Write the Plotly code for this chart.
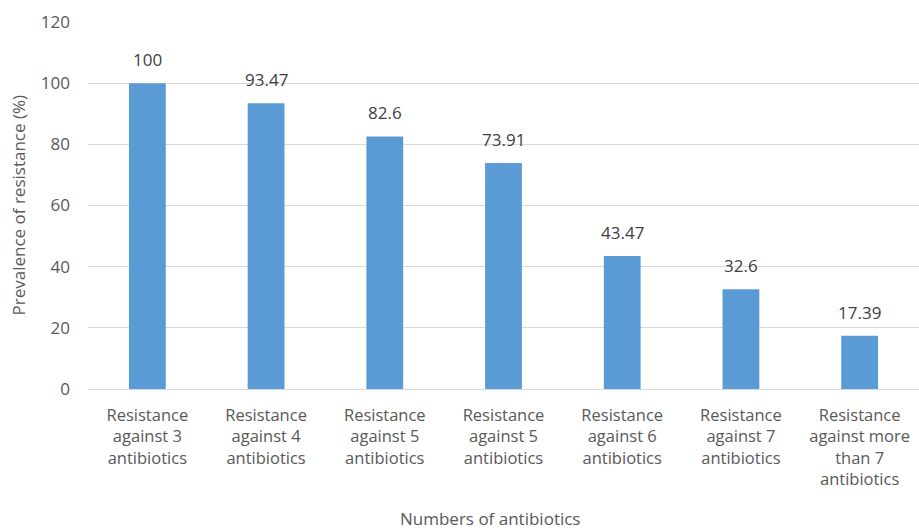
import plotly.graph_objects as go

categories = [
    "Resistance<br>against 3<br>antibiotics",
    "Resistance<br>against 4<br>antibiotics",
    "Resistance<br>against 5<br>antibiotics",
    "Resistance<br>against 5<br>antibiotics",
    "Resistance<br>against 6<br>antibiotics",
    "Resistance<br>against 7<br>antibiotics",
    "Resistance<br>against more<br>than 7<br>antibiotics",
]
prevalence = [100, 93.47, 82.6, 73.91, 43.47, 32.6, 17.39]
y_ticks = [0, 20, 40, 60, 80, 100, 120]

FONT = "Open Sans"
TEXT = "#595959"
SIZE = 17
TICK_SIZE = 16.5
positions = list(range(len(categories)))

fig = go.Figure(
    go.Bar(
        x=positions,
        y=prevalence,
        marker=dict(color="#5B9BD5", line=dict(width=0)),
        width=0.31,
        hoverinfo="skip",
    )
)

# value labels above each bar
for xi, v in zip(positions, prevalence):
    fig.add_annotation(
        x=xi, y=v, text=f"{v:g}", showarrow=False,
        yanchor="bottom", yshift=10,
        font=dict(family=FONT, size=SIZE, color="#404040"),
    )

fig.update_layout(
    width=919, height=531,
    margin=dict(l=88, r=0, t=22, b=142),
    paper_bgcolor="white", plot_bgcolor="white",
    showlegend=False,
    font=dict(family=FONT, size=SIZE, color=TEXT),
    xaxis=dict(
        tickvals=positions, ticktext=categories,
        range=[-0.5, len(categories) - 0.5],
        showgrid=False, zeroline=False,
        showline=True, linecolor="#d9d9d9", linewidth=1,
        ticks="", ticklabelstandoff=11,
        tickfont=dict(family=FONT, size=TICK_SIZE, color=TEXT),
        fixedrange=True,
    ),
    yaxis=dict(
        range=[0, 120], tickvals=y_ticks,
        showgrid=True, gridcolor="#d9d9d9", gridwidth=1,
        zeroline=False, showline=False, ticks="",
        ticklabelstandoff=17,
        tickfont=dict(family=FONT, size=SIZE, color=TEXT),
        fixedrange=True,
    ),
    annotations=list(fig.layout.annotations) + [
        dict(text="Prevalence of resistance (%)", xref="paper", yref="paper",
             x=-(88 - 18) / 831, y=0.5, textangle=-90, showarrow=False,
             xanchor="center", yanchor="middle",
             font=dict(family=FONT, size=SIZE, color=TEXT)),
        dict(text="Numbers of antibiotics", xref="paper", yref="paper",
             x=(490 - 88) / 831, y=-(518 - 389) / 367, showarrow=False,
             xanchor="center", yanchor="middle",
             font=dict(family=FONT, size=SIZE, color=TEXT)),
    ],
)

fig.write_html("out.html")
